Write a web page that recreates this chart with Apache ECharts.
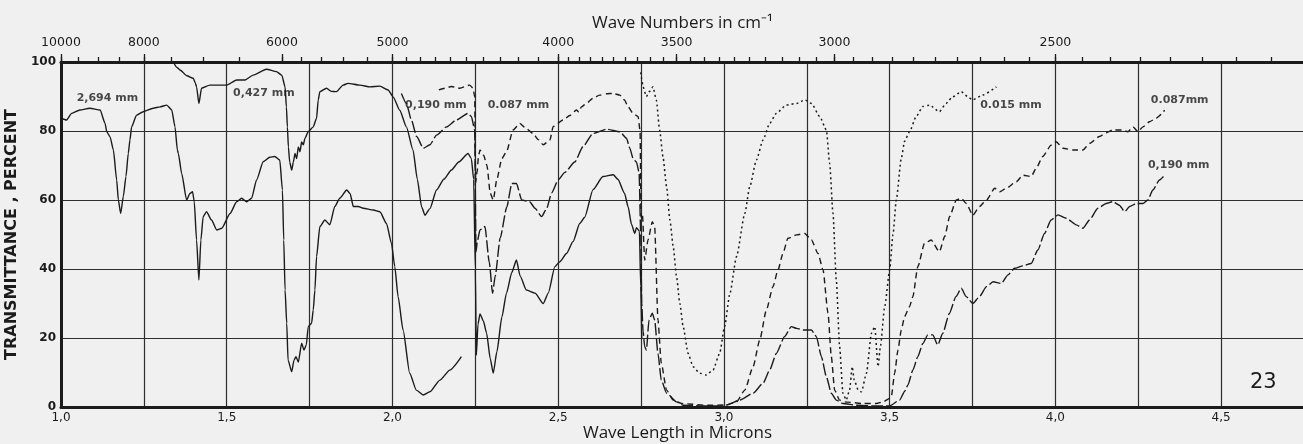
<!DOCTYPE html>
<html><head><meta charset="utf-8">
<script src="https://cdn.jsdelivr.net/npm/echarts@6/dist/echarts.min.js"></script>
<style>html,body{margin:0;padding:0;background:#f0f0f0;}#c{width:1303px;height:444px;}</style>
</head><body><div id="c"></div>
<script>
// ---- data (x = wave length in microns, y = transmittance %) ----
const bottomTickLabels = [1.0, 1.5, 2.0, 2.5, 3.0, 3.5, 4.0, 4.5];
const waveNumberLabels = [10000, 8000, 6000, 5000, 4000, 3500, 3000, 2500];
const waveNumberTicks = [10000,9500,9000,8500,8000,7500,7000,6500,6000,5800,5600,5400,5200,5000,
  4900,4800,4700,4600,4500,4400,4300,4200,4100,4000,3950,3900,3850,3800,3750,3700,3650,3600,3550,3500,
  3450,3400,3350,3300,3250,3200,3150,3100,3050,3000,2950,2900,2850,2800,2750,2700,2650,2600,2550,2500,
  2450,2400,2350,2300,2250,2200,2150];

const s2694 = [[1.0,83.7],[1.017,83.2],[1.032,85.1],[1.057,86.1],[1.087,86.6],[1.118,86.1],[1.133,82.2],[1.138,79.8],[1.148,78.3],[1.158,74.5],[1.168,65.8],[1.173,60],[1.18,56.1],[1.188,61],[1.196,66.8],[1.203,73.5],[1.208,77.4],[1.213,81.2],[1.228,84.6],[1.248,85.6],[1.278,86.6],[1.299,87],[1.319,87.5],[1.334,86.1],[1.344,81.2],[1.351,74.5],[1.354,73.5],[1.364,67.7],[1.379,60],[1.389,61.9],[1.397,62.4],[1.402,59.5],[1.409,48.4],[1.416,36.8],[1.422,48.4],[1.429,55.2],[1.439,56.6],[1.454,54.2],[1.47,51.3],[1.485,51.8],[1.51,56.1],[1.53,59.5],[1.545,60.5],[1.56,59.5],[1.575,60.5],[1.59,65.8],[1.61,71.1],[1.63,72.4],[1.645,72.6],[1.66,71.6],[1.668,62.9],[1.672,48.4],[1.676,33.9],[1.681,24.3],[1.685,13.6],[1.696,10.2],[1.703,13.6],[1.709,14.6],[1.716,13],[1.726,18.5],[1.733,16.5],[1.74,18],[1.746,23.3],[1.756,24.3],[1.761,28.1],[1.766,33.9],[1.771,43.6],[1.781,52.3],[1.796,54.2],[1.811,52.8],[1.826,58.1],[1.841,60.5],[1.862,62.9],[1.872,61.9],[1.882,58.1],[1.897,58.1],[1.912,57.6],[1.942,57.1],[1.962,56.6],[1.982,53.2],[1.997,47.4],[2.007,40.7],[2.017,32],[2.032,22.3],[2.052,9.8],[2.072,4.9],[2.093,3.5],[2.113,4.4],[2.143,7.8],[2.173,10.7],[2.208,14.6]];

const s0427 = [[1.339,100],[1.349,98.5],[1.359,97.7],[1.38,96],[1.399,95.3],[1.405,94],[1.409,92.8],[1.416,88],[1.424,92.4],[1.449,93.3],[1.5,93.3],[1.53,94.8],[1.555,94.8],[1.58,96.2],[1.62,97.9],[1.65,97.2],[1.666,96.2],[1.676,92.8],[1.68,87],[1.683,81.2],[1.686,75.4],[1.69,71],[1.696,68.7],[1.701,71],[1.706,73.5],[1.711,72],[1.716,75.4],[1.721,74],[1.726,76.8],[1.731,76],[1.736,77.9],[1.746,79.8],[1.761,81.2],[1.771,83.7],[1.776,89],[1.781,91.4],[1.801,92.4],[1.815,91.5],[1.831,91.4],[1.851,93.3],[1.866,93.8],[1.902,93.3],[1.932,92.8],[1.962,93],[1.987,91.9],[2.002,89.9],[2.022,86],[2.042,81.2],[2.062,74.5],[2.075,66],[2.088,58],[2.098,55.6],[2.113,57.5],[2.133,62.9],[2.155,66],[2.178,68.7],[2.2,71],[2.228,73.5],[2.238,72],[2.245,66],[2.25,40],[2.253,15],[2.258,24],[2.264,27],[2.274,25],[2.284,21.4],[2.295,14],[2.304,9.8],[2.315,16],[2.33,26],[2.344,33],[2.36,39],[2.374,42.6],[2.385,38],[2.404,33.9],[2.43,33],[2.455,30],[2.47,33],[2.49,40.7],[2.505,42.1],[2.525,44.5],[2.545,48],[2.565,53.2],[2.58,55],[2.605,63],[2.635,66.8],[2.666,67.3],[2.68,66],[2.7,62],[2.711,58],[2.721,53],[2.731,50.3],[2.736,52],[2.745,51],[2.749,35],[2.752,20]];

const s0190 = [[2.027,90.9],[2.042,88],[2.057,83.2],[2.073,78.4],[2.093,75],[2.113,76],[2.133,78.8],[2.163,81.2],[2.193,83.2],[2.228,85.1],[2.238,84.2],[2.248,80.3],[2.252,45],[2.256,48],[2.264,51.3],[2.279,52.3],[2.292,42],[2.302,33],[2.31,38],[2.325,49],[2.345,58],[2.36,64.8],[2.374,64.8],[2.39,60],[2.414,59.5],[2.43,57.6],[2.45,55.2],[2.465,57.5],[2.48,62],[2.5,65.8],[2.52,68],[2.55,71],[2.575,75.5],[2.605,79.3],[2.646,80.5],[2.686,79.8],[2.706,77.9],[2.716,75],[2.726,72],[2.736,71],[2.744,68],[2.749,50],[2.752,30],[2.756,22],[2.761,17.5],[2.766,16.5],[2.774,25.2],[2.784,27.2],[2.791,25.2],[2.801,15.5],[2.811,7.8],[2.827,4],[2.857,1.5],[2.877,0.5],[2.95,0.3],[3.0,0.3],[3.007,0.6],[3.048,2],[3.088,4],[3.118,6.9],[3.138,10.7],[3.158,15.5],[3.183,20.4],[3.203,23.3],[3.219,22.8],[3.239,22.3],[3.264,22.3],[3.279,20.4],[3.294,14.6],[3.309,8.8],[3.324,4],[3.339,2],[3.359,1],[3.4,0.5],[3.45,0.3],[3.5,0.3],[3.53,2],[3.545,4.5],[3.555,6.4],[3.57,10.7],[3.585,14.6],[3.6,18.4],[3.615,20.9],[3.63,20.9],[3.645,18],[3.66,21.3],[3.68,27.1],[3.7,32],[3.716,34.4],[3.731,32],[3.751,30],[3.771,32],[3.792,34.9],[3.812,36.3],[3.837,35.8],[3.857,38.3],[3.877,40.2],[3.902,40.9],[3.927,41.6],[3.947,45.5],[3.967,50.3],[3.987,54.2],[4.008,55.7],[4.033,54.7],[4.063,52.8],[4.083,51.8],[4.103,54.2],[4.128,57.6],[4.153,59],[4.173,59.5],[4.193,58.5],[4.209,56.6],[4.224,58.1],[4.244,59],[4.264,59],[4.279,60],[4.294,62.9],[4.314,65.8],[4.326,66.8]];

const s0087 = [[2.14,91.9],[2.158,92.4],[2.178,92.9],[2.203,92.4],[2.233,93.3],[2.243,92.4],[2.248,90],[2.251,65],[2.255,68],[2.26,73],[2.264,74.5],[2.275,73],[2.285,70],[2.295,62],[2.304,60],[2.315,66],[2.33,72],[2.344,74],[2.364,80.3],[2.384,82.2],[2.4,81],[2.424,79.3],[2.44,77.5],[2.455,76],[2.475,77.4],[2.485,81.3],[2.515,83.2],[2.535,84.5],[2.555,86.1],[2.562,85.5],[2.57,87],[2.585,88],[2.605,89.5],[2.625,90.4],[2.646,90.8],[2.666,90.9],[2.686,90.4],[2.7,89],[2.711,87],[2.726,85.1],[2.741,84.2],[2.747,80],[2.75,55],[2.754,56],[2.761,42.6],[2.771,48.4],[2.784,53.7],[2.791,52.3],[2.801,25.2],[2.811,12.7],[2.827,4.9],[2.847,2],[2.872,1],[2.95,0.5],[3.007,0.6],[3.038,1.5],[3.063,4.9],[3.088,11.7],[3.108,19.4],[3.128,28.1],[3.148,34.9],[3.163,39.7],[3.178,44.5],[3.193,48.9],[3.219,49.9],[3.244,50.3],[3.264,48.4],[3.284,44.5],[3.299,39.7],[3.314,27.2],[3.324,14.6],[3.334,4.9],[3.349,2],[3.364,1.5],[3.42,1],[3.46,1],[3.48,1.5],[3.5,2.5],[3.505,3],[3.515,9.8],[3.525,16.5],[3.535,22.3],[3.545,26.2],[3.56,29.1],[3.57,32],[3.585,40.7],[3.605,47.4],[3.625,48.4],[3.65,45],[3.666,49.4],[3.681,55.2],[3.701,60],[3.716,60.5],[3.731,59],[3.751,55.6],[3.771,58.1],[3.792,60],[3.817,63.4],[3.832,62.4],[3.852,63.4],[3.882,65.3],[3.902,67.2],[3.927,66.8],[3.942,69.2],[3.962,72.6],[3.987,75.9],[4.002,76.9],[4.023,75],[4.053,74.5],[4.083,74.5],[4.103,76.4],[4.133,78.4],[4.153,79.5],[4.173,80.3],[4.203,80.3],[4.219,79.8],[4.234,81.2],[4.249,79.8],[4.264,81.2],[4.284,82.7],[4.304,83.7],[4.324,85.1],[4.329,86.1]];

const s0015 = [[2.749,97],[2.752,95],[2.756,92.8],[2.766,90],[2.776,91.5],[2.786,92.8],[2.796,89],[2.806,80.3],[2.816,72.6],[2.827,63.9],[2.837,54.2],[2.847,46.5],[2.857,37.8],[2.867,30],[2.877,23.3],[2.892,15.5],[2.907,11.7],[2.927,9.8],[2.947,9.3],[2.967,10.7],[2.987,15.5],[3.002,23.3],[3.018,32.9],[3.038,43.6],[3.063,56.1],[3.078,63.9],[3.098,71.6],[3.118,77.4],[3.138,82.2],[3.158,85.1],[3.188,87.5],[3.219,88],[3.244,89],[3.264,88],[3.289,84.2],[3.309,80.3],[3.319,70.6],[3.329,56.1],[3.339,36.8],[3.349,17.5],[3.359,4],[3.369,2],[3.379,4.9],[3.387,11.7],[3.393,7.8],[3.405,4.9],[3.415,4.4],[3.43,9.8],[3.445,21.4],[3.455,23.3],[3.465,11.7],[3.472,17.5],[3.485,29.1],[3.5,39.7],[3.51,50],[3.52,60],[3.535,72],[3.545,77],[3.56,79.8],[3.58,84.2],[3.6,87.1],[3.62,87.5],[3.65,85.6],[3.67,88],[3.69,89.9],[3.716,91.4],[3.736,89.9],[3.75,89],[3.78,90.4],[3.822,92.8]];

const annotations = [[1.14,89.6,'2,694 mm'],[1.612,91.0,'0,427 mm'],[2.131,87.5,'0,190 mm'],[2.38,87.5,'0.087 mm'],[3.866,87.5,'0.015 mm'],[4.375,89.0,'0.087mm'],[4.372,70.1,'0,190 mm']];
const figureNumber = '23';

// ---- chart ----
const INK = '#1b1b1b';
const toMicron = wn => 10000 / wn;
const chart = echarts.init(document.getElementById('c'));
function curve(name, data, type, width) {
  return { name, type: 'line', data, xAxisIndex: 0, yAxisIndex: 0, showSymbol: false, symbol: 'none',
    smooth: 0.2, smoothMonotone: 'x', silent: true,
    lineStyle: { color: INK, width: width || 1.4, type: type } };
}
chart.setOption({
  animation: false,
  backgroundColor: '#f0f0f0',
  title: { text: figureNumber, left: 1245, top: 367, textStyle: { fontFamily: 'DejaVu Sans', fontSize: 21, fontWeight: 'normal', color: INK } },
  grid: { left: 61, top: 62, width: 1243, height: 345, containLabel: false, outerBoundsMode: 'none' },
  xAxis: [
    { type: 'value', position: 'bottom', min: 1, max: 4.75, interval: 0.25,
      axisLine: { lineStyle: { color: INK, width: 3 } }, axisTick: { show: false },
      splitLine: { show: true, lineStyle: { color: '#2e2e2e', width: 1.2 } },
      axisLabel: { customValues: bottomTickLabels, formatter: v => v.toFixed(1).replace('.', ','), color: INK, fontFamily: 'DejaVu Sans', fontSize: 12, margin: 5 },
      name: 'Wave Length in Microns', nameLocation: 'middle', nameGap: 18, nameMoveOverlap: false,
      nameTextStyle: { fontFamily: 'Open Sans', fontSize: 17, color: INK, padding: [0, 10, 0, 0] } },
    { type: 'value', position: 'top', min: 1, max: 4.75,
      axisLine: { lineStyle: { color: INK, width: 3 } },
      axisTick: { show: true, customValues: waveNumberTicks.map(toMicron), length: 5, lineStyle: { color: INK, width: 1.3 } },
      axisLabel: { customValues: waveNumberLabels.map(toMicron), formatter: v => String(Math.round(10000 / v)), color: INK, fontFamily: 'DejaVu Sans', fontSize: 12.5, margin: 13 },
      splitLine: { show: false },
      name: 'Wave Numbers in cm⁻¹', nameLocation: 'middle', nameGap: 30, nameMoveOverlap: false,
      nameTextStyle: { fontFamily: 'Open Sans', fontSize: 17, color: INK } },
    { type: 'value', position: 'top', min: 1, max: 4.75,
      axisLine: { show: false },
      axisTick: { show: true, customValues: waveNumberLabels.map(toMicron), length: 8, lineStyle: { color: INK, width: 1.3 } },
      axisLabel: { show: false }, splitLine: { show: false } }
  ],
  yAxis: { type: 'value', min: 0, max: 100, interval: 20,
    axisLine: { show: true, lineStyle: { color: INK, width: 3 } }, axisTick: { show: false },
    splitLine: { show: true, lineStyle: { color: '#2e2e2e', width: 1.2 } },
    axisLabel: { color: INK, fontFamily: 'DejaVu Sans', fontWeight: 'bold', fontSize: 12, margin: 5 },
    name: 'TRANSMITTANCE , PERCENT', nameLocation: 'middle', nameGap: 35, nameRotate: 90,
    nameTextStyle: { fontFamily: 'DejaVu Sans', fontWeight: 'bold', fontSize: 16, color: INK } },
  series: [
    curve('2,694 mm', s2694, 'solid', 1.4),
    curve('0,427 mm', s0427, 'solid', 1.4),
    curve('0,190 mm', s0190, [12, 3], 1.4),
    curve('0.087 mm', s0087, [6, 4], 1.4),
    curve('0.015 mm', s0015, [2, 3], 1.5),
    { name: 'labels', type: 'scatter', data: annotations, symbolSize: 1, silent: true,
      itemStyle: { color: 'rgba(0,0,0,0)' },
      label: { show: true, position: 'inside', formatter: p => p.value[2], color: INK,
        fontFamily: 'DejaVu Sans', fontWeight: 'bold', fontSize: 11 } }
  ]
});
</script></body></html>
